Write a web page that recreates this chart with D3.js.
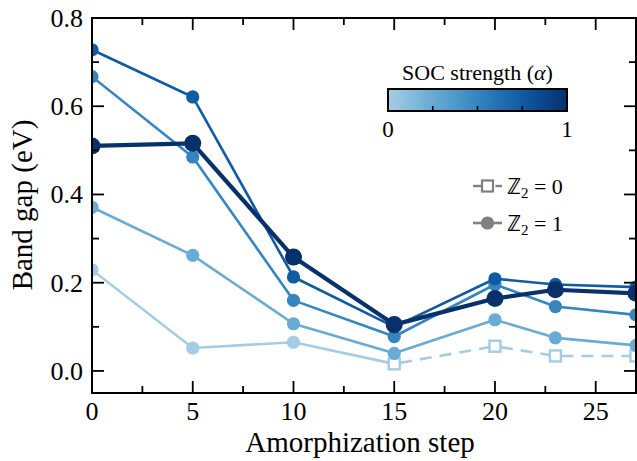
<!DOCTYPE html>
<html>
<head>
<meta charset="utf-8">
<script src="https://cdn.jsdelivr.net/npm/d3@7"></script>
<style>
  html, body { margin: 0; padding: 0; background: #fff; }
  svg { display: block; }
</style>
</head>
<body>
<script>
// ---- data ----
const steps = [0, 5, 10, 15, 20, 23, 27];
const alphas = [0, 0.25, 0.5, 0.75, 1];
const gapAlpha0   = [0.229, 0.052, 0.065, 0.016, 0.056, 0.034, 0.034];
const gapAlpha025 = [0.371, 0.262, 0.107, 0.040, 0.116, 0.075, 0.058];
const gapAlpha05  = [0.667, 0.485, 0.160, 0.078, 0.196, 0.146, 0.127];
const gapAlpha075 = [0.728, 0.621, 0.213, 0.100, 0.209, 0.196, 0.190];
const gapAlpha1   = [0.510, 0.516, 0.258, 0.105, 0.164, 0.184, 0.176];
const z2Alpha0    = [1, 1, 1, 0, 0, 0, 0];
const z2Other     = [1, 1, 1, 1, 1, 1, 1];
const xTicks = [0, 5, 10, 15, 20, 25];
const yTicks = [0.0, 0.2, 0.4, 0.6, 0.8];
const xMinor = [2.5, 7.5, 12.5, 17.5, 22.5];
const yMinor = [0.1, 0.3, 0.5, 0.7];
const cbarTicks = [0.25, 0.5, 0.75];

const seriesGaps = [gapAlpha0, gapAlpha025, gapAlpha05, gapAlpha075, gapAlpha1];
const seriesZ2 = [z2Alpha0, z2Other, z2Other, z2Other, z2Other];

const W = 637, H = 461;
const L = 92, R = 636, T = 18, B = 393;
const FONT = "'Liberation Serif', 'Times New Roman', Times, Tinos, 'Nimbus Roman', 'Noto Serif', 'DejaVu Serif', FreeSerif, serif";

const x = d3.scaleLinear().domain([0, 27]).range([L, R]);
const y = d3.scaleLinear().domain([-0.05, 0.8]).range([B, T]);
const color = a => d3.interpolateBlues(0.35 + 0.65 * a);

const svg = d3.select("body").append("svg").attr("width", W).attr("height", H)
  .attr("font-family", FONT);

svg.append("defs").append("clipPath").attr("id", "clip")
  .append("rect").attr("x", L).attr("y", T).attr("width", R - L).attr("height", B - T);

const plot = svg.append("g").attr("clip-path", "url(#clip)");

const series = alphas.map((a, i) => ({
  alpha: a,
  pts: steps.map((s, j) => ({ x: s, y: seriesGaps[i][j], z2: seriesZ2[i][j] }))
}));

const line = d3.line().x(d => x(d.x)).y(d => y(d.y));

series.forEach(s => {
  const big = s.alpha === 1;
  const c = color(s.alpha);
  const g = plot.append("g");
  for (let j = 0; j < s.pts.length - 1; j++) {
    const a = s.pts[j], b = s.pts[j + 1];
    const dashed = a.z2 === 0 && b.z2 === 0;
    g.append("path").attr("d", line([a, b]))
      .attr("fill", "none").attr("stroke", c)
      .attr("stroke-width", big ? 4.2 : 2.6)
      .attr("stroke-dasharray", dashed ? "12,8" : null)
      .attr("stroke-dashoffset", dashed ? -6 : null);
  }
  s.pts.forEach(p => {
    if (p.z2 === 1) {
      g.append("circle").attr("cx", x(p.x)).attr("cy", y(p.y))
        .attr("r", big ? 8.5 : 6.6).attr("fill", c);
    } else {
      g.append("rect").attr("x", x(p.x) - 5.5).attr("y", y(p.y) - 5.5)
        .attr("width", 11).attr("height", 11)
        .attr("fill", "#fff").attr("stroke", c).attr("stroke-width", 2.4);
    }
  });
});

// ---- axes ----
const ax = svg.append("g");
const tickLen = 12, minorLen = 7;
const drawTick = (x1, y1, x2, y2) => ax.append("line")
  .attr("x1", x1).attr("y1", y1).attr("x2", x2).attr("y2", y2)
  .attr("stroke", "#000").attr("stroke-width", 1.8);

xTicks.forEach(v => { drawTick(x(v), B, x(v), B - tickLen); drawTick(x(v), T, x(v), T + tickLen); });
xMinor.forEach(v => { drawTick(x(v), B, x(v), B - minorLen); drawTick(x(v), T, x(v), T + minorLen); });
yTicks.forEach(v => { drawTick(L, y(v), L + tickLen, y(v)); drawTick(R, y(v), R - tickLen, y(v)); });
yMinor.forEach(v => { drawTick(L, y(v), L + minorLen, y(v)); drawTick(R, y(v), R - minorLen, y(v)); });

ax.append("rect").attr("x", L).attr("y", T).attr("width", R - L).attr("height", B - T)
  .attr("fill", "none").attr("stroke", "#000").attr("stroke-width", 2);

ax.selectAll(".xl").data(xTicks).enter().append("text")
  .attr("x", d => x(d)).attr("y", 420).attr("text-anchor", "middle")
  .attr("font-size", 26).text(d => d);

ax.selectAll(".yl").data(yTicks).enter().append("text")
  .attr("x", 83).attr("y", d => y(d)).attr("dy", "0.34em").attr("text-anchor", "end")
  .attr("font-size", 26).text(d => d.toFixed(1));

svg.append("text").attr("x", (L + R) / 2 - 4).attr("y", 452).attr("text-anchor", "middle")
  .attr("font-size", 29).text("Amorphization step");

svg.append("text").attr("transform", "translate(32,205) rotate(-90)")
  .attr("text-anchor", "middle").attr("font-size", 29).text("Band gap (eV)");

// ---- colorbar ----
const cb = { x0: 388, x1: 567, y0: 89, y1: 111 };
const grad = svg.select("defs").append("linearGradient").attr("id", "cbg")
  .attr("x1", "0%").attr("x2", "100%").attr("y1", "0%").attr("y2", "0%");
d3.range(0, 1.0001, 0.1).forEach(t => {
  grad.append("stop").attr("offset", (t * 100) + "%").attr("stop-color", color(t));
});
const cbs = d3.scaleLinear().domain([0, 1]).range([cb.x0, cb.x1]);
svg.append("rect").attr("x", cb.x0).attr("y", cb.y0).attr("width", cb.x1 - cb.x0)
  .attr("height", cb.y1 - cb.y0).attr("fill", "url(#cbg)");
cbarTicks.forEach(t => svg.append("line").attr("x1", cbs(t)).attr("x2", cbs(t))
  .attr("y1", cb.y1).attr("y2", cb.y1 - 5).attr("stroke", "#000").attr("stroke-width", 1.6));
svg.append("rect").attr("x", cb.x0).attr("y", cb.y0).attr("width", cb.x1 - cb.x0)
  .attr("height", cb.y1 - cb.y0).attr("fill", "none").attr("stroke", "#000").attr("stroke-width", 2);
[0, 1].forEach(t => svg.append("text").attr("x", cbs(t)).attr("y", 137)
  .attr("text-anchor", "middle").attr("font-size", 23).text(t));
const cbt = svg.append("text").attr("x", (cb.x0 + cb.x1) / 2).attr("y", 80)
  .attr("text-anchor", "middle").attr("font-size", 22);
cbt.append("tspan").text("SOC strength (");
cbt.append("tspan").attr("font-style", "italic").text("α");
cbt.append("tspan").text(")");

// ---- Z2 legend ----
const gray = "#808080";
const leg = svg.append("g");
const legItems = [{ z: 0, yy: 186 }, { z: 1, yy: 223 }];
legItems.forEach(it => {
  const lx0 = 473, lx1 = 502, mx = 487.5;
  if (it.z === 0) {
    leg.append("line").attr("x1", lx0).attr("x2", mx - 6).attr("y1", it.yy).attr("y2", it.yy)
      .attr("stroke", gray).attr("stroke-width", 2.4);
    leg.append("line").attr("x1", mx + 8).attr("x2", lx1).attr("y1", it.yy).attr("y2", it.yy)
      .attr("stroke", gray).attr("stroke-width", 2.4);
    leg.append("rect").attr("x", mx - 5.5).attr("y", it.yy - 5.5).attr("width", 11).attr("height", 11)
      .attr("fill", "#fff").attr("stroke", gray).attr("stroke-width", 2.2);
  } else {
    leg.append("line").attr("x1", lx0).attr("x2", lx1).attr("y1", it.yy).attr("y2", it.yy)
      .attr("stroke", gray).attr("stroke-width", 2.6);
    leg.append("circle").attr("cx", mx).attr("cy", it.yy).attr("r", 6.6).attr("fill", gray);
  }
  const tx = leg.append("text").attr("x", 507).attr("y", it.yy + 8).attr("font-size", 22);
  tx.append("tspan").text("ℤ");
  tx.append("tspan").attr("font-size", 15).attr("dy", 4).text("2");
  tx.append("tspan").attr("dy", -4).text(" = " + it.z);
});
</script>
</body>
</html>
